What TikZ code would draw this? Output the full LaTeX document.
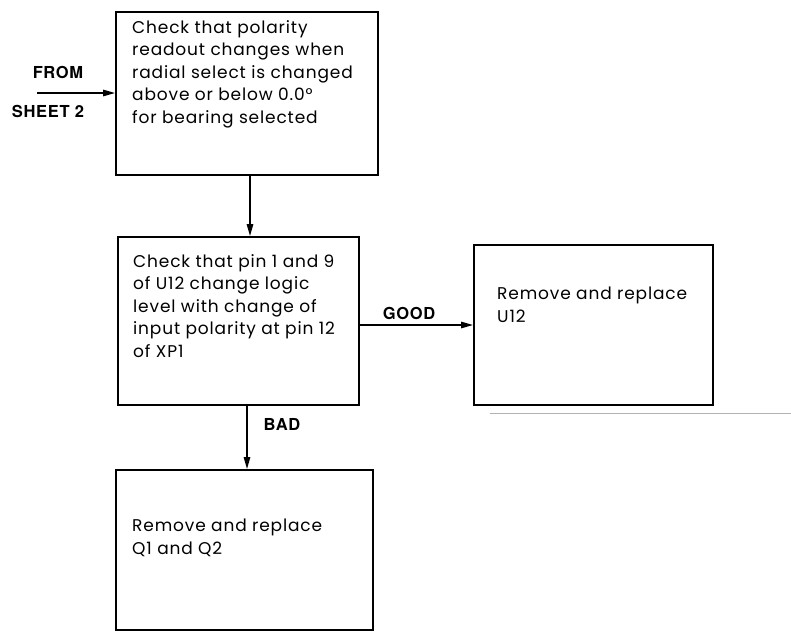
\documentclass[tikz,border=0pt]{standalone}
\usepackage{fontspec}
\setmainfont{Poppins}[LetterSpace=5]
\newfontfamily\labelfont{TeX Gyre Heros}[LetterSpace=4]
\usetikzlibrary{arrows.meta}
\begin{document}
\begin{tikzpicture}[x=1pt,y=-1pt,
  box/.style={draw,line width=2pt,inner sep=0pt},
  body/.style={anchor=north west,inner sep=0pt,align=left,
    font=\fontsize{17}{22.5}\selectfont},
  tag/.style={inner sep=0pt,font=\labelfont\bfseries\fontsize{16.5}{18}\selectfont},
  flow/.style={line width=1.4pt,-{Triangle[length=12pt,width=6.5pt]}}]
\useasboundingbox (0,0) rectangle (791,632);
% boxes
\node[box,minimum width=262pt,minimum height=163pt] (b1) at (247,93.5) {};
\node[box,minimum width=241pt,minimum height=168pt] (b2) at (238.5,321) {};
\node[box,minimum width=239pt,minimum height=160pt] (b3) at (593.5,325) {};
\node[box,minimum width=257pt,minimum height=160pt] (b4) at (244.5,550) {};
% texts
\node[body] (t1) at (132,20) {Check that polarity\\readout changes when\\radial select is changed\\above or below 0.0°\\for bearing selected};
\node[body] (t2) at (133,254) {Check that pin 1 and 9\\of U12 change logic\\level with change of\\input polarity at pin 12\\of XP1};
\node[body] (t3) at (497,287) {Remove and replace\\U12};
\node[body] (t4) at (132,519) {Remove and replace\\Q1 and Q2};
% incoming reference
\node[tag] (from) at (58,72) {FROM};
\node[tag] (sheet) at (48,111) {SHEET 2};
\coordinate (in) at (37,93);
\draw[flow] (in) -- (b1.west |- in);
% connectors
\draw[flow] (b1.south -| 250,0) -- (b2.north -| 250,0);
\draw[flow] (b2.east |- 0,325) -- (b3.west |- 0,325);
\node[tag] (good) at (409,313) {GOOD};
\draw[flow] (b2.south -| 247,0) -- (b4.north -| 247,0);
\node[tag] (bad) at (282,424) {BAD};
% faint rule under the right box
\coordinate (r1) at (490,413);
\coordinate (r2) at (791,413);
\draw[gray!60,line width=0.6pt] (r1) -- (r2);
\end{tikzpicture}
\end{document}
